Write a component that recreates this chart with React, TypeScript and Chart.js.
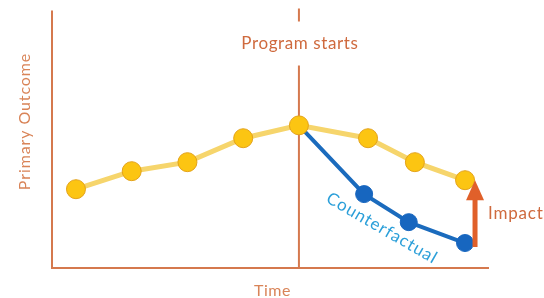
import React, { useEffect, useRef } from "react";
import { Chart, registerables } from "chart.js";

Chart.register(...registerables);

const programX = [0, 1, 2, 3, 4, 5.24, 6.08, 6.98];
const programY = [30.6, 37.6, 41.1, 50.4, 55.4, 50.4, 41.1, 34.1];
const counterX = [4, 5.17, 5.97, 6.98];
const counterY = [55.4, 28.7, 17.8, 9.7];
const programStartX = 4;
const labels = {
  yTitle: "Primary Outcome",
  xTitle: "Time",
  start: "Program starts",
  impact: "Impact",
  counter: "Counterfactual",
};

const AXIS = "#d5794e";
const TEXT = "#cf6a3e";
const FONT = "Lato, 'Open Sans', sans-serif";

const overlay = {
  id: "overlay",
  beforeDatasetsDraw(chart: any) {
    const { ctx, chartArea: a, scales } = chart;
    const xs = scales.x;
    ctx.save();
    ctx.strokeStyle = AXIS;
    ctx.lineWidth = 2;
    ctx.beginPath();
    ctx.moveTo(a.left, a.top);
    ctx.lineTo(a.left, a.bottom);
    ctx.lineTo(a.right, a.bottom);
    ctx.stroke();
    const px = xs.getPixelForValue(programStartX);
    ctx.beginPath();
    ctx.moveTo(px, a.top - 2);
    ctx.lineTo(px, a.top + 11);
    ctx.moveTo(px, a.top + 55);
    ctx.lineTo(px, a.bottom);
    ctx.stroke();
    ctx.fillStyle = TEXT;
    ctx.font = `17px ${FONT}`;
    (ctx as any).letterSpacing = "0.6px";
    ctx.textAlign = "center";
    ctx.textBaseline = "middle";
    ctx.fillText(labels.start, px + 1, a.top + 33);
    ctx.font = `16px ${FONT}`;
    ctx.fillStyle = "#d98458";
    ctx.fillText(labels.xTitle, (a.left + a.right) / 2 + 2, a.bottom + 23);
    ctx.save();
    ctx.translate(a.left - 27, a.top + 111);
    ctx.rotate(-Math.PI / 2);
    (ctx as any).letterSpacing = "0.9px";
    ctx.fillText(labels.yTitle, 0, 0);
    ctx.restore();
    ctx.save();
    const cx = xs.getPixelForValue(5.49);
    const cy = scales.y.getPixelForValue(15.5);
    ctx.translate(cx, cy);
    ctx.rotate((30 * Math.PI) / 180);
    ctx.fillStyle = "#2b9fd9";
    ctx.font = `17px ${FONT}`;
    (ctx as any).letterSpacing = "1px";
    ctx.fillText(labels.counter, 0, 0);
    ctx.restore();
    ctx.restore();
  },
  afterDatasetsDraw(chart: any) {
    const { ctx, scales } = chart;
    const last = programX.length - 1;
    const ax = scales.x.getPixelForValue(programX[last]) + 10;
    const topY = scales.y.getPixelForValue(programY[last]) + 2;
    const botY = scales.y.getPixelForValue(counterY[counterY.length - 1]) + 4;
    ctx.save();
    ctx.strokeStyle = "#e0602a";
    ctx.fillStyle = "#e0602a";
    ctx.lineWidth = 5;
    ctx.beginPath();
    ctx.moveTo(ax, botY);
    ctx.lineTo(ax, topY + 15);
    ctx.stroke();
    ctx.beginPath();
    ctx.moveTo(ax, topY - 2);
    ctx.lineTo(ax + 9, topY + 18);
    ctx.lineTo(ax - 9, topY + 18);
    ctx.closePath();
    ctx.fill();
    ctx.font = `17px ${FONT}`;
    (ctx as any).letterSpacing = "0.8px";
    ctx.fillStyle = TEXT;
    ctx.textAlign = "left";
    ctx.textBaseline = "middle";
    ctx.fillText(labels.impact, ax + 13, (topY + botY) / 2 - 1);
    ctx.restore();
  },
};

export default function App() {
  const ref = useRef<HTMLCanvasElement>(null);
  useEffect(() => {
    if (!ref.current) return;
    const chart = new Chart(ref.current, {
      type: "line",
      data: {
        datasets: [
          {
            data: programX.map((x, i) => ({ x, y: programY[i] })),
            borderColor: "#f6d56c",
            borderWidth: 5,
            pointRadius: 9.5,
            pointBackgroundColor: "#fcc512",
            pointBorderColor: "#e3a21a",
            pointBorderWidth: 1,
            order: 0,
          },
          {
            data: counterX.map((x, i) => ({ x, y: counterY[i] })),
            borderColor: "#1b6bbd",
            borderWidth: 4,
            pointRadius: counterX.map((_, i) => (i === 0 ? 0 : 8.5)),
            pointBackgroundColor: "#1766bf",
            pointBorderColor: "#1766bf",
            pointBorderWidth: 1,
            order: 1,
          },
        ],
      },
      options: {
        animation: false,
        responsive: false,
        layout: { padding: { left: 52, right: 55, top: 10, bottom: 30 } },
        plugins: { legend: { display: false }, tooltip: { enabled: false } },
        scales: {
          x: { type: "linear", min: -0.43, max: 7.41, display: false },
          y: { type: "linear", min: 0, max: 100, display: false },
        },
      },
      plugins: [overlay],
    });
    return () => chart.destroy();
  }, []);
  return (
    <div style={{ position: "fixed", left: 0, top: 0, width: 544, height: 298, background: "#fff" }}>
      <canvas ref={ref} width={544} height={298} />
    </div>
  );
}
